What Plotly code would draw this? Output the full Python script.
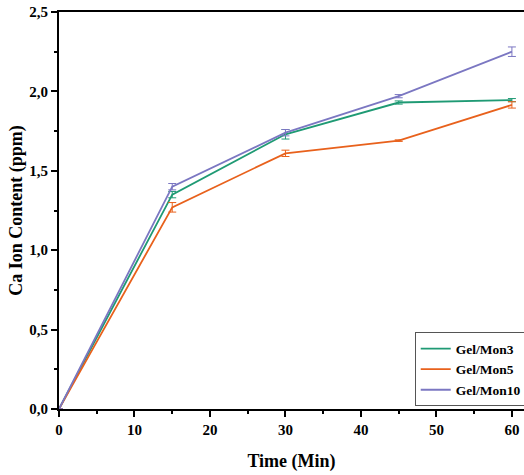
import plotly.graph_objects as go

time = [0, 15, 30, 45, 60]
mon3 = [0.0, 1.35, 1.73, 1.93, 1.945]
mon3_err = [0.0, 0.02, 0.03, 0.01, 0.01]
mon5 = [0.0, 1.27, 1.61, 1.69, 1.915]
mon5_err = [0.0, 0.03, 0.02, 0.005, 0.02]
mon10 = [0.0, 1.40, 1.74, 1.97, 2.25]
mon10_err = [0.0, 0.02, 0.02, 0.01, 0.03]

names = ["Gel/Mon3", "Gel/Mon5", "Gel/Mon10"]
colors = ["#1f9a74", "#e8611c", "#7b77c2"]

fig = go.Figure()
for name, y, e, c in zip(names, [mon3, mon5, mon10], [mon3_err, mon5_err, mon10_err], colors):
    fig.add_trace(go.Scatter(
        x=time, y=y, mode="lines", name=name,
        line=dict(color=c, width=1.8),
        error_y=dict(type="data", array=e, visible=True, color=c, thickness=1, width=4),
    ))

fig.update_layout(
    width=524, height=475,
    margin=dict(l=59, r=0, t=12, b=66, autoexpand=False),
    paper_bgcolor="white", plot_bgcolor="white",
    separators=", ",
    showlegend=True,
    legend=dict(
        x=0.765, y=0.193, xanchor="left", yanchor="top",
        bordercolor="#555", borderwidth=1, bgcolor="white",
        font=dict(family="Liberation Serif", size=13.5, color="black", weight="bold"),
        tracegroupgap=0, itemwidth=30,
    ),
    xaxis=dict(
        range=[0, 61.6], tickvals=[0, 10, 20, 30, 40, 50, 60],
        showgrid=False, zeroline=False, automargin=False,
        showline=True, linecolor="black", linewidth=2, mirror=True,
        ticks="outside", ticklen=6, tickwidth=2, tickcolor="black",
        minor=dict(tickvals=[5, 15, 25, 35, 45, 55], ticks="outside", ticklen=3, tickwidth=2, tickcolor="black"),
        tickfont=dict(family="Liberation Serif", size=15, color="black", weight="bold"),
        title=dict(text="Time (Min)", font=dict(family="Liberation Serif", size=18, color="black", weight="bold"), standoff=17),
    ),
    yaxis=dict(
        range=[0, 2.5], tickvals=[0, 0.5, 1.0, 1.5, 2.0, 2.5], tickformat=".1f",
        showgrid=False, zeroline=False, automargin=False,
        showline=True, linecolor="black", linewidth=2,
        ticks="outside", ticklen=6, tickwidth=2, tickcolor="black",
        minor=dict(tickvals=[0.25, 0.75, 1.25, 1.75, 2.25], ticks="outside", ticklen=3, tickwidth=2, tickcolor="black"),
        tickfont=dict(family="Liberation Serif", size=15, color="black", weight="bold"),
        title=dict(text="Ca Ion Content (ppm)", font=dict(family="Liberation Serif", size=18, color="black", weight="bold"), standoff=2),
    ),
)

fig.write_html(
    "out.html",
    config={"displayModeBar": False},
    post_script="document.body.style.margin='0';document.body.style.overflow='hidden';",
)
